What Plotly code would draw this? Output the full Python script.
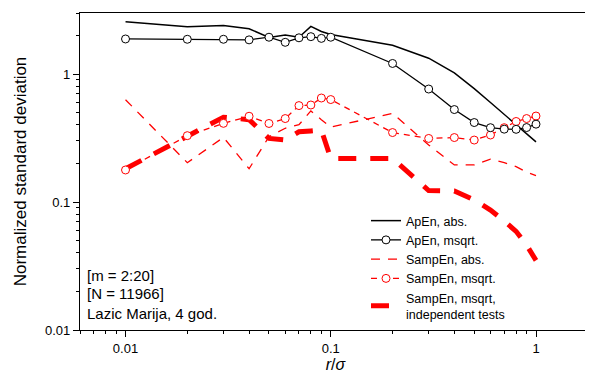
import math
import plotly.graph_objects as go

# ---- data ----
r_sigma = [0.01, 0.02, 0.03, 0.04, 0.05, 0.06, 0.07, 0.08, 0.09, 0.1,
           0.2, 0.3, 0.4, 0.5, 0.6, 0.7, 0.8, 0.9, 1.0]

apen_abs = [2.56, 2.34, 2.40, 2.26, 1.93, 2.02, 1.94, 2.36, 2.15, 2.04,
            1.68, 1.33, 1.02, 0.77, 0.60, 0.483, 0.40, 0.34, 0.295]
apen_msqrt = [1.88, 1.87, 1.87, 1.85, 1.94, 1.77, 1.92, 1.96, 1.90, 1.94,
              1.21, 0.764, 0.528, 0.418, 0.381, 0.371, 0.370, 0.382, 0.406]
sampen_abs = [0.63, 0.203, 0.32, 0.182, 0.324, 0.377, 0.402, 0.515, 0.44, 0.385,
              0.493, 0.279, 0.195, 0.195, 0.216, 0.203, 0.189, 0.171, 0.161]
sampen_msqrt = [0.178, 0.330, 0.412, 0.468, 0.411, 0.449, 0.567, 0.573, 0.650, 0.632,
                0.349, 0.314, 0.319, 0.305, 0.334, 0.381, 0.426, 0.449, 0.470]
sampen_indep = [0.182, 0.324, 0.46, 0.44, 0.314, 0.305, 0.354, 0.359, 0.365, 0.219,
                0.219, 0.123, 0.122, 0.104, 0.0866, 0.071, 0.059, 0.046, 0.035]

names = ["ApEn, abs.", "ApEn, msqrt.", "SampEn, abs.", "SampEn, msqrt.",
         "SampEn, msqrt,<br>independent tests"]

major_ticks = [0.01, 0.1, 1]
major_text = ["0.01", "0.1", "1"]
minor_ticks = [k * 10.0 ** e for e in range(-3, 1) for k in range(2, 10)]

notes = ["[m = 2:20]", "[N = 11966]", "Lazic Marija, 4 god."]

RED = "#ff0000"
BLACK = "#000000"
FONT = "Arial, Liberation Sans, Helvetica, sans-serif"

# the page body has an 8px margin; figure is sized so it ends at the window edge
FIG_W, FIG_H = 585, 370

fig = go.Figure()

# drawing order: thick red first, circles on top
fig.add_trace(go.Scatter(x=r_sigma, y=sampen_indep, name=names[4], mode="lines",
                         line=dict(color=RED, width=5, dash="18px,14px"),
                         legendrank=5))
fig.add_trace(go.Scatter(x=r_sigma, y=sampen_abs, name=names[2], mode="lines",
                         line=dict(color=RED, width=1.3, dash="9px,8px"),
                         legendrank=3))
fig.add_trace(go.Scatter(x=r_sigma, y=apen_abs, name=names[0], mode="lines",
                         line=dict(color=BLACK, width=1.5),
                         legendrank=1))
fig.add_trace(go.Scatter(x=r_sigma, y=sampen_msqrt, name=names[3], mode="lines+markers",
                         line=dict(color=RED, width=1.3, dash="6px,5px"),
                         marker=dict(symbol="circle", size=8, color="white",
                                     line=dict(color=RED, width=1)),
                         legendrank=4))
fig.add_trace(go.Scatter(x=r_sigma, y=apen_msqrt, name=names[1], mode="lines+markers",
                         line=dict(color=BLACK, width=1.3),
                         marker=dict(symbol="circle", size=8, color="white",
                                     line=dict(color=BLACK, width=1)),
                         legendrank=2))

axis_common = dict(
    type="log", showgrid=False, zeroline=False,
    showline=True, linecolor=BLACK, linewidth=1.3,
    ticks="outside", ticklen=6, tickwidth=1.2, tickcolor=BLACK,
    tickmode="array", tickvals=major_ticks, ticktext=major_text,
    tickfont=dict(size=13, color=BLACK, family=FONT),
    minor=dict(tickmode="array", tickvals=minor_ticks, ticks="outside",
               ticklen=3, tickwidth=1.1, tickcolor=BLACK, showgrid=False),
)

fig.update_xaxes(**axis_common, range=[math.log10(0.006), 0.268], mirror=True,
                 title=dict(text="<i>r</i>/<i>σ</i>", font=dict(size=16, color=BLACK, family=FONT),
                            standoff=0))
fig.update_yaxes(**axis_common, range=[-2, math.log10(3.0)],
                 title=dict(text="Normalized standard deviation",
                            font=dict(size=17, color=BLACK, family=FONT), standoff=13))

note_y = [275, 293, 313]
for txt, py in zip(notes, note_y):
    fig.add_annotation(text=txt, xref="paper", yref="paper",
                       x=(85 - 80) / 511, y=(330 - py) / 317,
                       xanchor="left", yanchor="middle", showarrow=False,
                       font=dict(size=15, color=BLACK, family=FONT))

fig.update_layout(
    width=FIG_W, height=FIG_H,
    margin=dict(l=72, r=2, t=5, b=48),
    paper_bgcolor="white", plot_bgcolor="white",
    font=dict(family=FONT, color=BLACK),
    showlegend=True,
    legend=dict(x=(366 - 80) / 511, y=(330 - 206) / 317, xanchor="left", yanchor="top",
                bgcolor="rgba(0,0,0,0)", borderwidth=0, tracegroupgap=0,
                font=dict(size=12.5, color=BLACK, family=FONT)),
)

fig.write_html("out.html")
